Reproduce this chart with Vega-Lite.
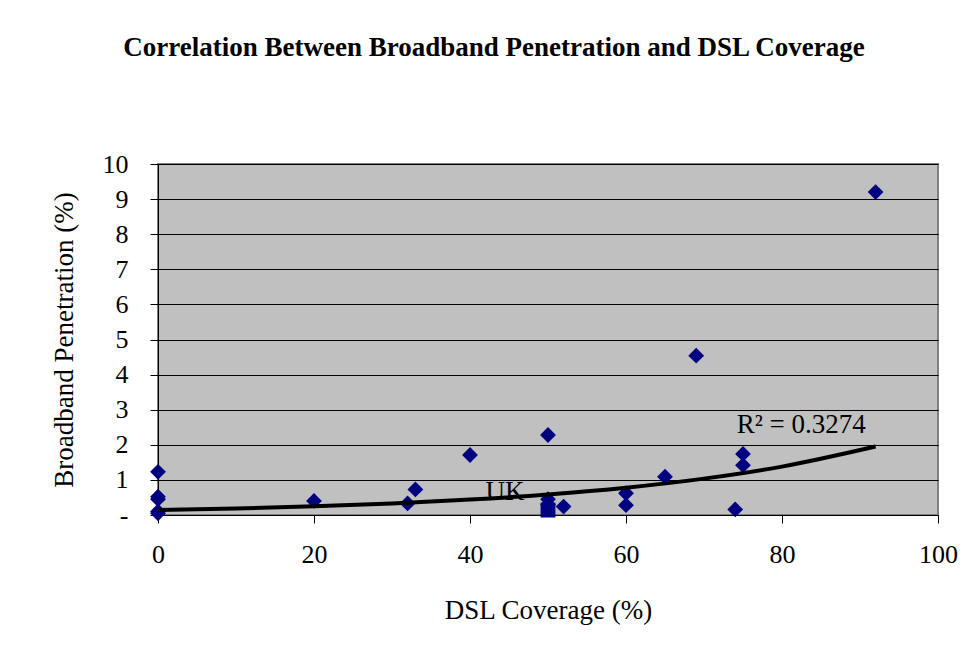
{
  "$schema": "https://vega.github.io/schema/vega-lite/v6.json",
  "autosize": "none",
  "width": 780,
  "height": 351,
  "padding": {"left": 158, "top": 164, "right": 33, "bottom": 140},
  "background": "white",
  "title": {
    "text": "Correlation Between Broadband Penetration and DSL Coverage",
    "font": "Liberation Serif",
    "fontSize": 27,
    "fontWeight": "bold",
    "color": "black",
    "anchor": "middle",
    "frame": "group",
    "baseline": "alphabetic",
    "offset": 68,
    "dx": -54
  },
  "datasets": {
    "points": [
      {"dsl": 0, "bb": 1.23},
      {"dsl": 0, "bb": 0.52},
      {"dsl": 0, "bb": 0.45},
      {"dsl": 0, "bb": 0.1},
      {"dsl": 0, "bb": 0.05},
      {"dsl": 20, "bb": 0.4},
      {"dsl": 32, "bb": 0.33},
      {"dsl": 33, "bb": 0.73},
      {"dsl": 40, "bb": 1.71},
      {"dsl": 50, "bb": 2.28},
      {"dsl": 50, "bb": 0.45},
      {"dsl": 50, "bb": 0.3},
      {"dsl": 52, "bb": 0.24},
      {"dsl": 60, "bb": 0.62},
      {"dsl": 60, "bb": 0.28},
      {"dsl": 65, "bb": 1.09},
      {"dsl": 69, "bb": 4.54},
      {"dsl": 74, "bb": 0.16},
      {"dsl": 75, "bb": 1.74},
      {"dsl": 75, "bb": 1.42},
      {"dsl": 92, "bb": 9.2}
    ],
    "uk": [{"dsl": 50, "bb": 0.14}],
    "trend": [
      {"dsl": 0, "bb": 0.14},
      {"dsl": 10, "bb": 0.186},
      {"dsl": 20, "bb": 0.248},
      {"dsl": 30, "bb": 0.33},
      {"dsl": 40, "bb": 0.439},
      {"dsl": 50, "bb": 0.585},
      {"dsl": 60, "bb": 0.778},
      {"dsl": 70, "bb": 1.036},
      {"dsl": 80, "bb": 1.379},
      {"dsl": 92, "bb": 1.95}
    ],
    "labels": [
      {"dsl": 42, "bb": 0.43, "txt": "UK"},
      {"dsl": 74.2, "bb": 2.34, "txt": "R² = 0.3274"}
    ]
  },
  "encoding": {
    "x": {
      "field": "dsl",
      "type": "quantitative",
      "scale": {"domain": [0, 100], "nice": false, "zero": false},
      "axis": {
        "title": "DSL Coverage (%)",
        "values": [0, 20, 40, 60, 80, 100],
        "grid": false,
        "labelFlush": false,
        "domainColor": "black",
        "tickColor": "black",
        "tickSize": 8,
        "labelPadding": 18,
        "labelFont": "Liberation Serif",
        "labelFontSize": 26,
        "labelColor": "black",
        "titleFont": "Liberation Serif",
        "titleFontSize": 27,
        "titleFontWeight": "normal",
        "titleColor": "black",
        "titlePadding": 30
      }
    },
    "y": {
      "field": "bb",
      "type": "quantitative",
      "scale": {"domain": [0, 10], "nice": false},
      "axis": {
        "title": "Broadband Penetration (%)",
        "values": [0, 1, 2, 3, 4, 5, 6, 7, 8, 9, 10],
        "labelExpr": "datum.value == 0 ? '-' : datum.label",
        "grid": true,
        "gridColor": "black",
        "gridOpacity": 1,
        "gridWidth": 1,
        "domainColor": "black",
        "tickColor": "black",
        "tickSize": 8,
        "labelPadding": 22,
        "labelFont": "Liberation Serif",
        "labelFontSize": 26,
        "labelColor": "black",
        "titleFont": "Liberation Serif",
        "titleFontSize": 27,
        "titleFontWeight": "normal",
        "titleColor": "black",
        "titlePadding": 24
      }
    }
  },
  "layer": [
    {
      "data": {"name": "points"},
      "mark": {"type": "point", "shape": "diamond", "filled": true, "color": "#000080", "size": 250, "opacity": 1}
    },
    {
      "data": {"name": "uk"},
      "mark": {"type": "point", "shape": "square", "filled": true, "color": "#000080", "size": 220, "opacity": 1}
    },
    {
      "data": {"name": "labels"},
      "mark": {"type": "text", "align": "left", "baseline": "alphabetic", "font": "Liberation Serif", "fontSize": 27, "color": "black"},
      "encoding": {"text": {"field": "txt"}}
    },
    {
      "data": {"name": "trend"},
      "mark": {"type": "line", "color": "black", "strokeWidth": 4, "interpolate": "monotone"}
    }
  ],
  "config": {
    "view": {"fill": "#C0C0C0", "stroke": "#808080", "strokeWidth": 2}
  }
}
